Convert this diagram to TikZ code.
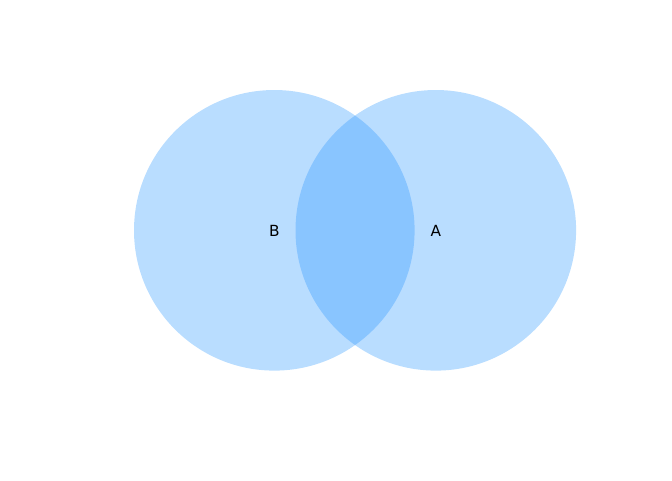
\documentclass[tikz,border=0pt]{standalone}
\usepackage{fontspec}
\setmainfont{DejaVu Sans}
\definecolor{vennbleu}{RGB}{30,144,255}
\tikzset{
  ensemble/.style={fill=vennbleu,fill opacity=0.31},
  etiquette/.style={font=\fontsize{11.5}{13}\selectfont,text=black,inner sep=0pt,yshift=-0.8pt}
}
\begin{document}
\begin{tikzpicture}[x=0.75pt,y=-0.75pt]

\useasboundingbox (0,0) rectangle (672,480) ;

% centres des deux ensembles

\coordinate (cB) at (274.3,230.3) ;
\coordinate (cA) at (435.8,230.3) ;

% disques

\fill[ensemble] (cB) circle (140.3) ;
\fill[ensemble] (cA) circle (140.3) ;

% noms

\node[etiquette] (nB) at (cB) {B} ;
\node[etiquette] (nA) at (cA) {A} ;

\end{tikzpicture}
\end{document}
